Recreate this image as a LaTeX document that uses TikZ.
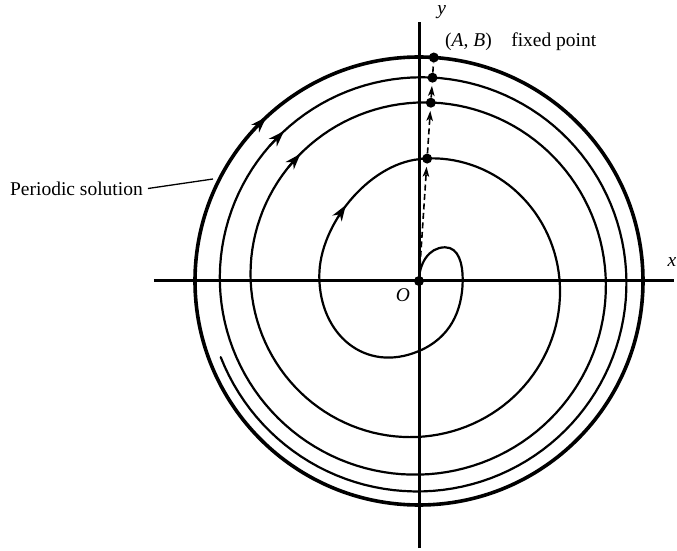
\documentclass[tikz,border=0pt]{standalone}
\usepackage{fontspec}
\setmainfont{Liberation Serif}
\usetikzlibrary{arrows.meta}
\begin{document}
\begin{tikzpicture}[x=1pt,y=1pt,
  declare function={rsp(\p)=224-186.9*exp(-0.002236*(\p-90));},
  curve/.style={line width=2.2pt, line join=round, line cap=round},
  limitcycle/.style={line width=3.6pt},
  axisline/.style={line width=3pt},
  dot/.style={circle, fill=black, inner sep=0pt, minimum size=10pt},
  flowtip/.style={-{Stealth[length=16pt,width=11pt,inset=5pt]}, line width=2pt},
  jump/.style={dash pattern=on 6pt off 3.5pt, line width=1.6pt},
  jumparrow/.style={jump, -{Stealth[length=10pt,width=6.5pt,inset=2.5pt]}, shorten >=3pt},
  lab/.style={font=\fontsize{19.5}{23}\selectfont, inner sep=0pt}
]
\useasboundingbox (-419,-270) rectangle (258,281);

% axes
\draw[axisline] (-265,0) -- (255,0);
\draw[axisline] (0,-267) -- (0,259);

% limit cycle
\draw[limitcycle] (0,0) circle[radius=224];

% spiral: first turn drawn piece by piece, then the spiral law
\draw[curve] (0,0) to[out=90, in=180] (26,33.7)
  to[out=0, in=90] (43.7,2)
  to[out=-90, in=23] (0,-70)
  to[out=203, in=-90, looseness=1.2] (-99.7,5)
  to[out=90, in=186, looseness=0.85] (0,121.8)
  -- plot[domain=360:1329, samples=360, variable=\p]
  ({rsp(\p)*cos(90-\p)},{rsp(\p)*sin(90-\p)});

% flow arrows
\draw[flowtip] (139:224) -- (133:224);
\draw[flowtip] ({rsp(1032)*cos(90-1032)},{rsp(1032)*sin(90-1032)}) -- ({rsp(1038)*cos(90-1038)},{rsp(1038)*sin(90-1038)});
\draw[flowtip] ({rsp(671)*cos(90-671)},{rsp(671)*sin(90-671)}) -- ({rsp(677)*cos(90-677)},{rsp(677)*sin(90-677)});
\draw[flowtip] (-80.8,64.2) -- (-73.2,75.9);

% points on the ray
\node[dot] (o) at (0,0) {};
\node[dot] (p1) at (86.2:122.7) {};
\node[dot] (p2) at (86.2:178.7) {};
\node[dot] (p3) at (86.2:203.75) {};
\node[dot] (p4) at (86.2:224) {};

\draw[jumparrow] (o) -- (p1);
\draw[jumparrow] (p1) -- (p2);
\draw[jumparrow] (p2) -- (p3);
\draw[jump] (p3) -- (p4);

% labels
\node[lab, anchor=base west] (fp) at (26,234.3) {(\textit{A}, \textit{B})\hspace{1em}fixed point};
\node[lab] (ylab) at (22.7,269.3) {\textit{y}};
\node[lab] (xlab) at (253,19) {\textit{x}};
\node[lab] (olab) at (-16,-14) {\textit{O}};
\node[lab, anchor=east, inner xsep=5pt] (ps) at (-271,92.5) {Periodic solution};
\coordinate (pe) at (-206,102);
\draw[line width=1.3pt] (ps.east) -- (pe);
\end{tikzpicture}
\end{document}
